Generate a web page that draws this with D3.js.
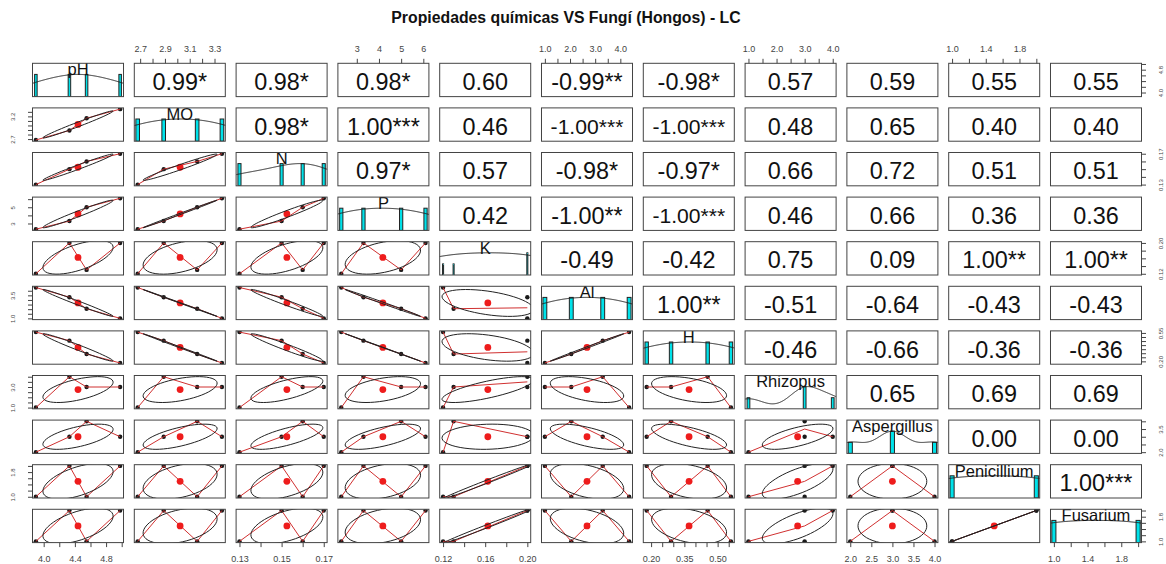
<!DOCTYPE html>
<html lang="es">
<head>
<meta charset="UTF-8">
<title>Propiedades químicas VS Fungí (Hongos) - LC</title>
<script src="https://cdn.jsdelivr.net/npm/d3@7"></script>
<style>
  body { margin: 0; background: #fff; }
  svg { display: block; font-family: "Liberation Sans", Arial, sans-serif; }
</style>
</head>
<body>
<div id="chart"></div>
<script>
// ---- data: 4 samples per variable ----
const varNames = ["pH", "MO", "N", "P", "K", "Al", "H", "Rhizopus", "Aspergillus", "Penicillium", "Fusarium"];
const pH          = [3.9, 4.33, 4.55, 4.98];
const MO          = [2.68, 2.89, 3.16, 3.36];
const N           = [0.13, 0.15, 0.16, 0.17];
const P           = [2.3, 3.3, 5.0, 6.1];
const K           = [0.12, 0.20, 0.13, 0.20];
const Al          = [4.35, 3.3, 2.05, 1.0];
const H           = [0.56, 0.455, 0.29, 0.18];
const Rhizopus    = [1, 4, 3, 3];
const Aspergillus = [2, 3, 4, 3];
const Penicillium = [1, 2, 1, 2];
const Fusarium    = [1, 2, 1, 2];
const series = [pH, MO, N, P, K, Al, H, Rhizopus, Aspergillus, Penicillium, Fusarium];

// tick positions per variable
const tickValues = [
  [4.0, 4.2, 4.4, 4.6, 4.8, 5.0],
  [2.7, 2.8, 2.9, 3.0, 3.1, 3.2, 3.3],
  [0.13, 0.14, 0.15, 0.16, 0.17],
  [3, 4, 5, 6],
  [0.12, 0.14, 0.16, 0.18, 0.20],
  [1.0, 1.5, 2.0, 2.5, 3.0, 3.5, 4.0],
  [0.20, 0.25, 0.30, 0.35, 0.40, 0.45, 0.50, 0.55],
  [1.0, 1.5, 2.0, 2.5, 3.0, 3.5, 4.0],
  [2.0, 2.5, 3.0, 3.5, 4.0],
  [1.0, 1.2, 1.4, 1.6, 1.8, 2.0],
  [1.0, 1.2, 1.4, 1.6, 1.8, 2.0]
];
// labels printed on top / bottom axes
const hLabels = [
  ["4.0", "4.4", "4.8"], ["2.7", "2.9", "3.1", "3.3"], ["0.13", "0.15", "0.17"], ["3", "4", "5", "6"],
  ["0.12", "0.16", "0.20"], ["1.0", "2.0", "3.0", "4.0"], ["0.20", "0.35", "0.50"], ["1.0", "2.0", "3.0", "4.0"],
  ["2.0", "2.5", "3.0", "3.5", "4.0"], ["1.0", "1.4", "1.8"], ["1.0", "1.4", "1.8"]
];
// labels printed on left / right axes
const vLabels = [
  ["4.0", "4.8"], ["2.7", "3.2"], ["0.13", "0.17"], ["3", "5"], ["0.12", "0.20"], ["1.0", "3.5"],
  ["0.20", "0.55"], ["1.0", "3.0"], ["2.0", "3.5"], ["1.0", "1.8"], ["1.0", "1.8"]
];
// correlation text in the upper panels (row by row, right of the diagonal)
const corrLabels = [
  ["0.99*", "0.98*", "0.98*", "0.60", "-0.99**", "-0.98*", "0.57", "0.59", "0.55", "0.55"],
  ["0.98*", "1.00***", "0.46", "-1.00***", "-1.00***", "0.48", "0.65", "0.40", "0.40"],
  ["0.97*", "0.57", "-0.98*", "-0.97*", "0.66", "0.72", "0.51", "0.51"],
  ["0.42", "-1.00**", "-1.00***", "0.46", "0.66", "0.36", "0.36"],
  ["-0.49", "-0.42", "0.75", "0.09", "1.00**", "1.00**"],
  ["1.00**", "-0.51", "-0.64", "-0.43", "-0.43"],
  ["-0.46", "-0.66", "-0.36", "-0.36"],
  ["0.65", "0.69", "0.69"],
  ["0.00", "0.00"],
  ["1.00***"]
];

const width = 1166, height = 564;
const nVar = varNames.length;
const ink = "#444";

const svg = d3.select("#chart").append("svg")
  .attr("width", width).attr("height", height);

svg.append("text")
  .attr("x", 566).attr("y", 23)
  .attr("text-anchor", "middle")
  .attr("font-weight", "bold").attr("font-size", 15.8)
  .attr("fill", "#111")
  .text("Propiedades químicas VS Fungí (Hongos) - LC");

// grid of panels
const cols = d3.scaleBand().domain(d3.range(nVar)).range([32.5, 1141.5]).paddingInner(0.106);
const rows = d3.scaleBand().domain(d3.range(nVar)).range([63.3, 542.6]).paddingInner(0.253);
const pw = cols.bandwidth(), ph = rows.bandwidth();

// R style limits: range +- 4%
function ext(v) {
  const [a, b] = d3.extent(v), d = (b - a) * 0.04;
  return [a - d, b + d];
}
const xs = series.map(v => d3.scaleLinear().domain(ext(v)).range([0, pw]));
const ys = series.map(v => d3.scaleLinear().domain(ext(v)).range([ph, 0]));

svg.append("defs").append("clipPath").attr("id", "panelClip")
  .append("rect").attr("width", pw).attr("height", ph);

// text widths for the correlation font size
const ctx = document.createElement("canvas").getContext("2d");
ctx.font = "100px 'Liberation Sans', Arial, sans-serif";
const textW = s => ctx.measureText(s).width / 100;
const refW = textW("0.12***");

function pearson(a, b) {
  const ma = d3.mean(a), mb = d3.mean(b);
  let sab = 0, saa = 0, sbb = 0;
  a.forEach((d, k) => {
    sab += (d - ma) * (b[k] - mb);
    saa += (d - ma) ** 2;
    sbb += (b[k] - mb) ** 2;
  });
  return sab / Math.sqrt(saa * sbb);
}

// port of R's clowess
function lowess(xIn, yIn, f = 2 / 3, nsteps = 3) {
  const n = xIn.length;
  const ord = d3.range(n).sort((a, b) => xIn[a] - xIn[b]);
  const x = ord.map(k => xIn[k]), y = ord.map(k => yIn[k]);
  const ns = Math.max(2, Math.min(n, Math.round(f * n)));
  const range = x[n - 1] - x[0];
  const yScale = d3.max(y, Math.abs) || 1;
  const delta = 0.01 * range;
  const fitted = new Array(n).fill(0), rw = new Array(n).fill(1), res = new Array(n).fill(0);

  function lowest(xv, nleft, nright, userw) {
    const w = new Array(n).fill(0);
    const h = Math.max(xv - x[nleft], x[nright] - xv);
    const h9 = 0.999 * h, h1 = 0.001 * h;
    let a = 0, j = nleft;
    while (j < n) {
      const r = Math.abs(x[j] - xv);
      if (r <= h9) {
        w[j] = r <= h1 ? 1 : Math.pow(1 - Math.pow(r / h, 3), 3);
        if (userw) w[j] *= rw[j];
        a += w[j];
      } else if (x[j] > xv) break;
      j++;
    }
    const nrt = j - 1;
    if (a <= 0) return null;
    for (j = nleft; j <= nrt; j++) w[j] /= a;
    if (h > 0) {
      a = 0;
      for (j = nleft; j <= nrt; j++) a += w[j] * x[j];
      let b = xv - a, c = 0;
      for (j = nleft; j <= nrt; j++) c += w[j] * (x[j] - a) ** 2;
      if (Math.sqrt(c) > 0.001 * range) {
        b /= c;
        for (j = nleft; j <= nrt; j++) w[j] *= (b * (x[j] - a) + 1);
      }
    }
    let out = 0;
    for (j = nleft; j <= nrt; j++) out += w[j] * y[j];
    return out;
  }

  for (let iter = 1; iter <= nsteps + 1; iter++) {
    let nleft = 0, nright = ns - 1, last = -1, i = 0;
    for (;;) {
      if (nright < n - 1) {
        const d1 = x[i] - x[nleft], d2 = x[nright + 1] - x[i];
        if (d1 > d2) { nleft++; nright++; continue; }
      }
      const fit = lowest(x[i], nleft, nright, iter > 1);
      fitted[i] = fit === null ? y[i] : fit;
      if (last < i - 1) {
        const denom = x[i] - x[last];
        for (let j = last + 1; j < i; j++) {
          const alpha = (x[j] - x[last]) / denom;
          fitted[j] = alpha * fitted[i] + (1 - alpha) * fitted[last];
        }
      }
      last = i;
      const cut = x[last] + delta;
      for (i = last + 1; i < n; i++) {
        if (x[i] > cut) break;
        if (x[i] === x[last]) { fitted[i] = fitted[last]; last = i; }
      }
      i = Math.max(last + 1, i - 1);
      if (last >= n - 1) break;
    }
    for (let k = 0; k < n; k++) res[k] = y[k] - fitted[k];
    const sc = d3.sum(res, Math.abs) / n;
    if (iter > nsteps) break;
    const ar = res.map(Math.abs).sort((a, b) => a - b);
    const m1 = Math.floor(n / 2);
    const cmad = n % 2 === 0 ? 3 * (ar[m1] + ar[n - m1 - 1]) : 6 * ar[m1];
    // stop when the fit is already exact (rounding noise only)
    if (cmad < 1e-7 * sc || cmad < 1e-9 * yScale) break;
    const c9 = 0.999 * cmad, c1 = 0.001 * cmad;
    for (let k = 0; k < n; k++) {
      const r = Math.abs(res[k]);
      rw[k] = r <= c1 ? 1 : r <= c9 ? (1 - (r / cmad) ** 2) ** 2 : 0;
    }
  }
  return x.map((d, k) => [d, fitted[k]]);
}

// gaussian density, bw.nrd * 1.2, scaled to max 1
function density(v) {
  const n = v.length;
  const iqr = d3.quantile(v, 0.75) - d3.quantile(v, 0.25);
  const bw = 1.06 * Math.min(d3.deviation(v), iqr / 1.34) * Math.pow(n, -0.2) * 1.2;
  const from = d3.min(v) - 3 * bw, to = d3.max(v) + 3 * bw;
  const d = d3.range(512).map(k => {
    const t = from + (to - from) * k / 511;
    return [t, d3.sum(v, xi => Math.exp(-0.5 * ((t - xi) / bw) ** 2))];
  });
  const m = d3.max(d, p => p[1]);
  return d.map(p => [p[0], p[1] / m]);
}

function drawDiag(g, body, k) {
  const v = series[k], x = xs[k];
  const y = d3.scaleLinear().domain([0, 1.5]).range([ph, 0]);
  const counts = d3.rollups(v, a => a.length, d => d).sort((a, b) => a[0] - b[0]);
  const uniq = counts.map(c => c[0]);
  const maxC = d3.max(counts, c => c[1]);
  const half = d3.min(d3.pairs(uniq).map(([a, b]) => b - a)) * (uniq.length - 1) / 41;

  body.selectAll("rect.bar").data(counts).join("rect")
    .attr("class", "bar")
    .attr("x", d => x(d[0] - half))
    .attr("width", d => x(d[0] + half) - x(d[0] - half))
    .attr("y", d => y(d[1] / maxC))
    .attr("height", d => y(0) - y(d[1] / maxC))
    .attr("fill", "#00e2ea")
    .attr("stroke", "#222").attr("stroke-width", 1);

  body.append("path").datum(density(v))
    .attr("d", d3.line().x(d => x(d[0])).y(d => y(d[1])))
    .attr("fill", "none").attr("stroke", "#222").attr("stroke-width", 1);

  g.append("text")
    .attr("x", pw / 2).attr("y", 12)
    .attr("text-anchor", "middle")
    .attr("font-size", 16.5).attr("fill", "#111")
    .text(varNames[k]);
}

function drawScatter(body, jx, iy) {
  const xv = series[jx], yv = series[iy], x = xs[jx], y = ys[iy];
  const pts = xv.map((d, k) => [d, yv[k]]);

  body.selectAll("circle.pt").data(pts).join("circle")
    .attr("class", "pt")
    .attr("cx", d => x(d[0])).attr("cy", d => y(d[1]))
    .attr("r", 2.2).attr("fill", "#1a1a1a");

  body.append("path").datum(lowess(xv, yv))
    .attr("d", d3.line().x(d => x(d[0])).y(d => y(d[1])))
    .attr("fill", "none").attr("stroke", "#d03030").attr("stroke-width", 1);

  // correlation ellipse (1 sd)
  const mx = d3.mean(xv), my = d3.mean(yv);
  const sx = d3.deviation(xv), sy = d3.deviation(yv);
  const r = Math.max(-1, Math.min(1, pearson(xv, yv)));
  const th = Math.abs(r) > 0 ? Math.sign(r) / Math.SQRT2 : 1 / Math.SQRT2;
  const a1 = Math.sqrt(1 + r), a2 = Math.sqrt(1 - r);
  const ell = d3.range(52).map(k => {
    const t = k * 2 * Math.PI / 51, c = Math.cos(t), s = Math.sin(t);
    return [mx + (c * a1 * th - s * a2 * th) * sx, my + (c * a1 * th + s * a2 * th) * sy];
  });

  body.append("circle")
    .attr("cx", x(mx)).attr("cy", y(my))
    .attr("r", 3.4).attr("fill", "#ee1c1c");

  body.append("path").datum(ell)
    .attr("d", d3.line().x(d => x(d[0])).y(d => y(d[1])))
    .attr("fill", "none").attr("stroke", "#222").attr("stroke-width", 1);
}

function drawCor(g, s) {
  const fs = 0.8 * pw / Math.max(refW, textW(s));
  g.append("text")
    .attr("x", pw / 2).attr("y", ph / 2 + 0.43 * fs)
    .attr("text-anchor", "middle")
    .attr("font-size", fs).attr("fill", "#111")
    .text(s);
}

for (let i = 0; i < nVar; i++) {
  for (let j = 0; j < nVar; j++) {
    const g = svg.append("g").attr("transform", `translate(${cols(j)},${rows(i)})`);
    const body = g.append("g").attr("clip-path", "url(#panelClip)");
    if (i === j) drawDiag(g, body, i);
    else if (i > j) drawScatter(body, j, i);
    else drawCor(g, corrLabels[i][j - i - 1]);
    g.append("rect")
      .attr("width", pw).attr("height", ph)
      .attr("fill", "none").attr("stroke", ink).attr("stroke-width", 1);
  }
}

// ---- axes ----
const labelOf = labels => d => labels.find(s => Math.abs(+s - d) < 1e-9) || "";

function styleAxis(a, size) {
  a.attr("font-family", "'Liberation Sans', Arial, sans-serif")
    .attr("font-size", size)
    .attr("color", ink);
  a.select(".domain").remove();
}

for (let j = 0; j < nVar; j++) {
  if (j % 2 === 1) {
    const a = svg.append("g")
      .attr("transform", `translate(${cols(j)},${rows(0)})`)
      .call(d3.axisTop(xs[j]).tickValues(tickValues[j]).tickSize(4.5).tickFormat(labelOf(hLabels[j])));
    styleAxis(a, 9);
    a.selectAll("text").attr("y", -11.6).attr("dy", null);
  } else {
    const a = svg.append("g")
      .attr("transform", `translate(${cols(j)},${rows(nVar - 1) + ph})`)
      .call(d3.axisBottom(xs[j]).tickValues(tickValues[j]).tickSize(4.5).tickFormat(labelOf(hLabels[j])));
    styleAxis(a, 9);
    a.selectAll("text").attr("y", 19.4).attr("dy", null);
  }
}

for (let i = 0; i < nVar; i++) {
  if (i % 2 === 1) {
    const a = svg.append("g")
      .attr("transform", `translate(${cols(0)},${rows(i)})`)
      .call(d3.axisLeft(ys[i]).tickValues(tickValues[i]).tickSize(4.5).tickFormat(labelOf(vLabels[i])));
    styleAxis(a, 6);
    a.selectAll("text")
      .attr("x", null).attr("dy", null)
      .attr("text-anchor", "middle")
      .attr("transform", "translate(-17.3,0) rotate(-90)");
  } else {
    const a = svg.append("g")
      .attr("transform", `translate(${cols(nVar - 1) + pw},${rows(i)})`)
      .call(d3.axisRight(ys[i]).tickValues(tickValues[i]).tickSize(4.5).tickFormat(labelOf(vLabels[i])));
    styleAxis(a, 6);
    a.selectAll("text")
      .attr("x", null).attr("dy", null)
      .attr("text-anchor", "middle")
      .attr("transform", "translate(21.2,0) rotate(-90)");
  }
}
</script>
</body>
</html>
